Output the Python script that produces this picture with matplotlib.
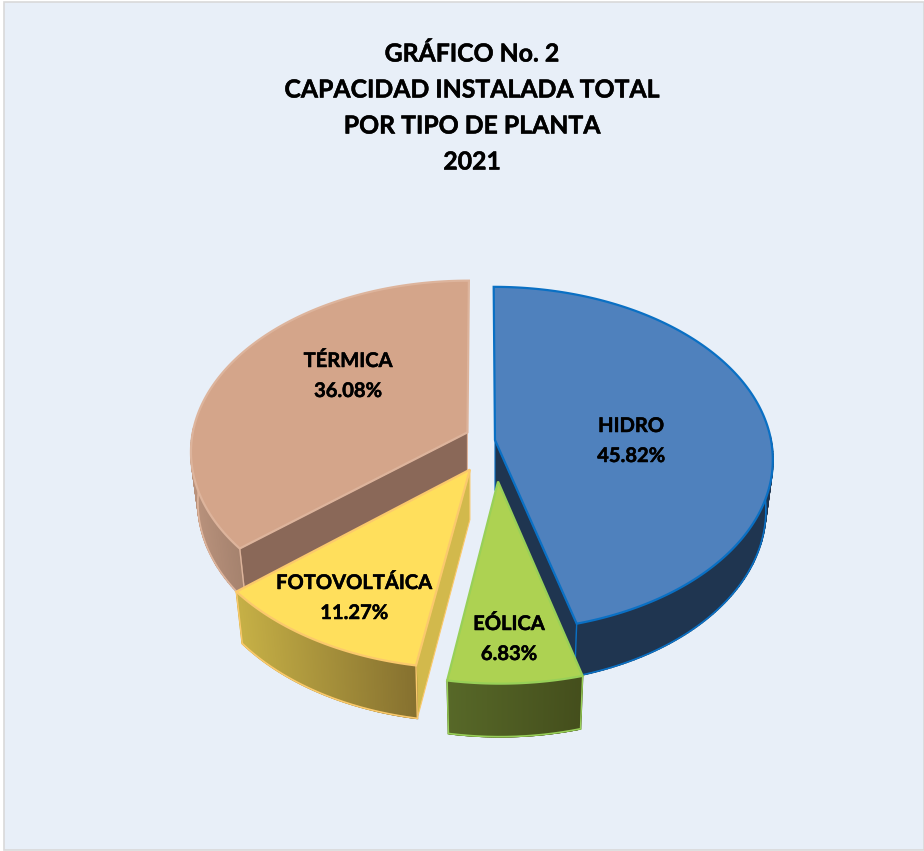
import numpy as np
import matplotlib
matplotlib.use("Agg")
import matplotlib.pyplot as plt
import matplotlib.patheffects as pe
from matplotlib.colors import to_rgb

# datos
tipos = ["HIDRO", "EÓLICA", "FOTOVOLTÁICA", "TÉRMICA"]
valores = [45.82, 6.83, 11.27, 36.08]
titulo = ["GRÁFICO No. 2", "CAPACIDAD INSTALADA TOTAL", "POR TIPO DE PLANTA", "2021"]

# estilo de cada porcion
c_top = ["#4F81BD", "#ADD252", "#FFDF5C", "#D4A58A"]
c_edge = ["#0A70C4", "#98D058", "#FBC96C", "#DDB49C"]
c_face = ["#1F3550", "#46501E", "#D2B94C", "#8A6858"]
c_wall_izq = ["#1F3550", "#576828", "#C6B046", "#B9927C"]
c_wall_der = ["#1F3550", "#444E1C", "#85702F", "#A5826E"]
# desplazamiento de cada porcion sobre el disco
despl = [(0.047, 0.0), (0.0566, 0.238), (-0.043, 0.171), (-0.053, -0.045)]
pos_label = [(631, 441), (509, 639), (354, 598), (348, 376)]

# proyeccion
cx, cy = 482, 440
Rx, Ry = 276, 170
k = 0.11
alto = 50
esc_x, esc_y = 0.975, 1.015


def proy(u, v):
    w = 1 - k * v
    return cx + Rx * u / w, cy + Ry * v / w


def abajo(x, y, ax0, ay0):
    return ax0 + (x - ax0) * esc_x, ay0 + alto + (y - ay0) * esc_y


fig = plt.figure(figsize=(9.24, 8.51), dpi=100)
fig.patch.set_facecolor("white")
ax = fig.add_axes([0, 0, 1, 1])
ax.set_xlim(0, 924)
ax.set_ylim(851, 0)
ax.axis("off")
ax.fill([3.5, 924, 924, 3.5], [1.5, 1.5, 849.5, 849.5], fc="#E8EFF8", ec="#D9D9D9", lw=1.2)

total = sum(valores)
ini = np.concatenate([[0], np.cumsum(valores)[:-1]]) / total * 360
fin = np.cumsum(valores) / total * 360

z = 2
# orden de dibujo, de atras hacia adelante
for i in [3, 2, 0, 1]:
    ou, ov = despl[i]
    ax0, ay0 = proy(ou, ov)
    t = np.radians(np.linspace(ini[i], fin[i], 200))
    x, y = proy(ou + np.sin(t), ov - np.cos(t))
    xb, yb = abajo(x, y, ax0, ay0)

    # caras radiales, solo las que miran al frente
    caras = []
    if 180 < ini[i] < 360:
        caras.append(0)
    if 0 < fin[i] < 180:
        caras.append(-1)
    for j in caras:
        fx = [ax0, x[j], xb[j], ax0]
        fy = [ay0, y[j], yb[j], ay0 + alto]
        ax.fill(fx, fy, fc=c_face[i], ec=c_edge[i], lw=0.8, zorder=z)

    # pared exterior con degradado
    vis = np.where((np.degrees(t) > 88) & (np.degrees(t) < 272))[0]
    if len(vis) > 1:
        x0, x1 = x[vis].min(), x[vis].max()
        c0, c1 = np.array(to_rgb(c_wall_izq[i])), np.array(to_rgb(c_wall_der[i]))
        for a, b in zip(vis[:-1], vis[1:]):
            f = ((x[a] + x[b]) / 2 - x0) / (x1 - x0)
            col = c0 + (c1 - c0) * f
            ax.fill([x[a], x[b], xb[b], xb[a]], [y[a], y[b], yb[b], yb[a]], fc=col, ec=col, lw=1.2, zorder=z + 1)
        ax.plot(xb[vis], yb[vis], color=c_edge[i], lw=1.2, zorder=z + 2)
        for v in [0, len(t) - 1]:
            if v in vis:
                ax.plot([x[v], xb[v]], [y[v], yb[v]], color=c_edge[i], lw=1.0, zorder=z + 2)

    # tapa
    ax.fill(np.r_[ax0, x], np.r_[ay0, y], fc=c_top[i], ec=c_edge[i], lw=1.6, joinstyle="miter", zorder=z + 3)
    z += 4

plt.rcParams["font.family"] = ["Lato", "DejaVu Sans"]
grueso = [pe.withStroke(linewidth=0.35, foreground="black")]

for n, linea in enumerate(titulo):
    ax.text(472, 54 + n * 36, linea, ha="center", va="center", fontsize=17.85, fontweight="bold",
            color="black", path_effects=grueso, zorder=z)

for i, nombre in enumerate(tipos):
    lx, ly = pos_label[i]
    ax.text(lx, ly - 15, nombre, ha="center", va="center", fontsize=14.5, fontweight="bold",
            color="black", path_effects=grueso, zorder=z)
    ax.text(lx, ly + 15, f"{valores[i]:.2f}%", ha="center", va="center", fontsize=14.5, fontweight="bold",
            color="black", path_effects=grueso, zorder=z)

fig.savefig("out.png", dpi=100, facecolor=fig.get_facecolor())
plt.close()
